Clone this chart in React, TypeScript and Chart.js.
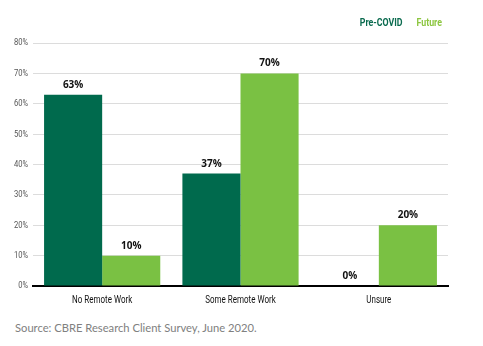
import React, { useEffect, useRef } from "react";
import { Chart, registerables } from "chart.js";

Chart.register(...registerables);

const categories = ["No Remote Work", "Some Remote Work", "Unsure"];
const preCovid = [63, 37, 0];
const future = [10, 70, 20];
const seriesNames = ["Pre-COVID", "Future"];
const yTicks = [0, 10, 20, 30, 40, 50, 60, 70, 80];

const DARK = "#006A4D";
const LIGHT = "#7AC143";
const LEGEND_COLORS = ["#0B6B4F", "#8CC63F"];
const COND = "Roboto, 'Liberation Sans', sans-serif";
const SX = 0.8;

function condText(ctx: any, text: string, x: number, y: number, align: string) {
  ctx.save();
  ctx.translate(x, y);
  ctx.scale(SX, 1);
  ctx.textAlign = align;
  ctx.fillText(text, 0, 0);
  ctx.restore();
}

const textPlugin = {
  id: "condensedText",
  afterDraw(chart: any) {
    const ctx = chart.ctx;
    const xs = chart.scales.x;
    const ys = chart.scales.y;
    const area = chart.chartArea;
    ctx.save();
    ctx.textBaseline = "middle";
    // x tick labels
    ctx.font = "10px " + COND;
    ctx.fillStyle = "#111";
    chart.data.labels.forEach((l: string, i: number) => {
      condText(ctx, l, xs.getPixelForTick(i), area.bottom + 14, "center");
    });
    // y tick labels
    ctx.font = "9.5px " + COND;
    ctx.fillStyle = "#555";
    yTicks.forEach((v) => {
      condText(ctx, v + "%", area.left - 5, ys.getPixelForValue(v), "right");
    });
    // legend
    ctx.font = "bold 11px " + COND;
    let right = area.right - 6;
    for (let i = seriesNames.length - 1; i >= 0; i--) {
      ctx.fillStyle = LEGEND_COLORS[i];
      condText(ctx, seriesNames[i], right, 23, "right");
      right -= ctx.measureText(seriesNames[i]).width * SX + 14;
    }
    // value labels
    ctx.font = "bold 10px 'Open Sans', sans-serif";
    ctx.fillStyle = "#111";
    ctx.textAlign = "center";
    ctx.textBaseline = "alphabetic";
    chart.data.datasets.forEach((ds: any, di: number) => {
      const meta = chart.getDatasetMeta(di);
      meta.data.forEach((bar: any, i: number) => {
        ctx.fillText(ds.data[i] + "%", bar.x, bar.y - 7);
      });
    });
    ctx.restore();
  },
};

export default function App() {
  const ref = useRef<HTMLCanvasElement>(null);
  useEffect(() => {
    const chart = new Chart(ref.current!, {
      type: "bar",
      data: {
        labels: categories,
        datasets: [
          { label: seriesNames[0], data: preCovid, backgroundColor: DARK },
          { label: seriesNames[1], data: future, backgroundColor: LIGHT },
        ],
      },
      options: {
        animation: false,
        responsive: false,
        devicePixelRatio: 1,
        layout: { padding: { left: 33, right: 35, top: 43, bottom: 19 } },
        datasets: { bar: { categoryPercentage: 0.84, barPercentage: 1 } },
        plugins: {
          tooltip: { enabled: false },
          legend: { display: false },
        },
        scales: {
          x: {
            grid: { display: false },
            border: { display: true, color: "#000", width: 2 },
            ticks: { display: false },
          },
          y: {
            min: 0,
            max: 80,
            afterBuildTicks: (axis: any) => {
              axis.ticks = yTicks.map((v) => ({ value: v }));
            },
            grid: { color: "#dcdcdc", drawTicks: false },
            border: { display: false },
            ticks: { display: false },
          },
        },
      },
      plugins: [textPlugin],
    });
    return () => chart.destroy();
  }, []);
  return (
    <div style={{ position: "absolute", left: 0, top: 0, width: 483, height: 346, background: "#fff" }}>
      <canvas ref={ref} width={483} height={313} style={{ display: "block" }} />
      <div
        style={{
          position: "absolute",
          left: 15,
          top: 321,
          fontFamily: "Lato, 'Open Sans', sans-serif",
          fontSize: 11.2,
          color: "#808080",
          whiteSpace: "nowrap",
        }}
      >
        Source: CBRE Research Client Survey, June 2020.
      </div>
    </div>
  );
}
